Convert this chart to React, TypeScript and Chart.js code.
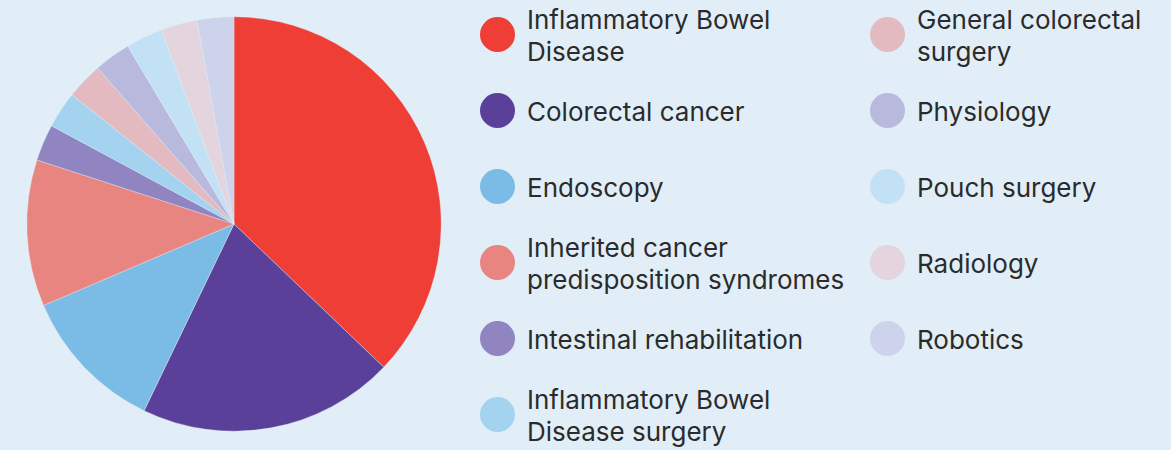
import React, { useEffect, useRef } from "react";
import { Chart, registerables } from "chart.js";
Chart.register(...registerables);

const categories = [
  "Inflammatory Bowel Disease",
  "Colorectal cancer",
  "Endoscopy",
  "Inherited cancer predisposition syndromes",
  "Intestinal rehabilitation",
  "Inflammatory Bowel Disease surgery",
  "General colorectal surgery",
  "Physiology",
  "Pouch surgery",
  "Radiology",
  "Robotics",
];
const values = [13, 7, 4, 4, 1, 1, 1, 1, 1, 1, 1];
const colors = [
  "#EE3E35",
  "#5B4099",
  "#7ABCE6",
  "#E88581",
  "#9085C1",
  "#A3D3EF",
  "#E4BAC1",
  "#B8B9DD",
  "#C3E1F4",
  "#E3D4DE",
  "#CDD3EA",
];

const BG = "#E1EEF8";

export default function App() {
  const ref = useRef<HTMLCanvasElement>(null);
  useEffect(() => {
    const chart = new Chart(ref.current!, {
      type: "pie",
      data: {
        labels: categories,
        datasets: [
          {
            data: values,
            backgroundColor: colors,
            borderWidth: 0.6,
            borderColor: "rgba(225,238,248,0.6)",
          },
        ],
      },
      options: {
        responsive: false,
        animation: false,
        layout: { padding: 17.5 },
        plugins: { legend: { display: false }, tooltip: { enabled: false } },
      },
    });
    return () => chart.destroy();
  }, []);

  const perCol = 6;
  return (
    <div
      style={{
        position: "fixed",
        left: 0,
        top: 0,
        width: 1171,
        height: 450,
        background: BG,
        overflow: "hidden",
      }}
    >
      <canvas
        ref={ref}
        width={450}
        height={450}
        style={{ position: "absolute", left: 9, top: -1, width: 450, height: 450 }}
      />
      {categories.map((c, i) => {
        const col = i < perCol ? 0 : 1;
        const row = col === 0 ? i : i - perCol;
        const cy = 34.5 + row * 76;
        const cx = col === 0 ? 497 : 887.5;
        const tx = col === 0 ? 527 : 917;
        const w = col === 0 ? 335 : 250;
        return (
          <React.Fragment key={c}>
            <div
              style={{
                position: "absolute",
                left: cx - 17.5,
                top: cy - 17.5,
                width: 35,
                height: 35,
                borderRadius: "50%",
                background: colors[i],
              }}
            />
            <div
              style={{
                position: "absolute",
                left: tx,
                top: cy + 1.5,
                width: w,
                transform: "translateY(-50%)",
                fontFamily: "Inter, sans-serif",
                fontSize: 26,
                lineHeight: "32px",
                color: "#2B2B2B",
              }}
            >
              {c}
            </div>
          </React.Fragment>
        );
      })}
    </div>
  );
}
